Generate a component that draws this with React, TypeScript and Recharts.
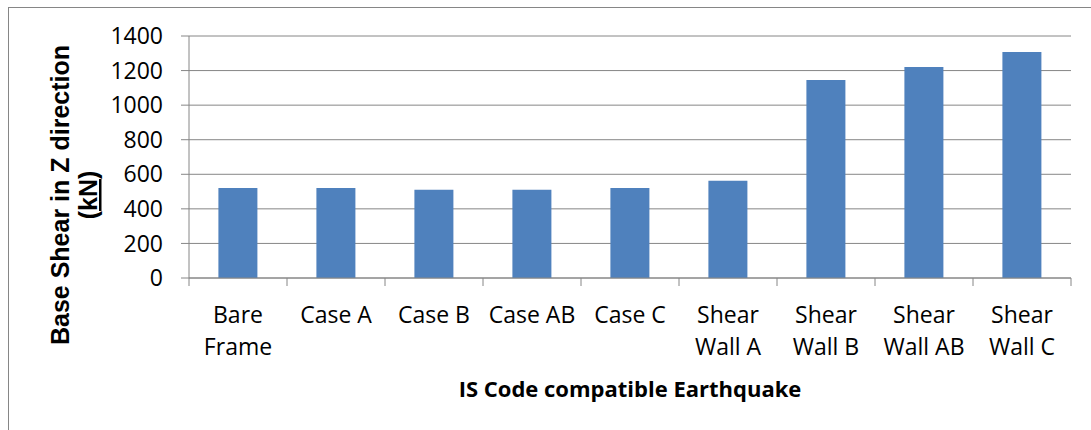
import {
  BarChart,
  Bar,
  XAxis,
  YAxis,
  CartesianGrid,
  Label,
} from 'recharts';

const categories = [
  'Bare Frame',
  'Case A',
  'Case B',
  'Case AB',
  'Case C',
  'Shear Wall A',
  'Shear Wall B',
  'Shear Wall AB',
  'Shear Wall C',
];
const baseShear = [521, 521, 511, 511, 521, 563, 1146, 1220, 1307];
const yTicks = [0, 200, 400, 600, 800, 1000, 1200, 1400];

const data = categories.map((name, i) => ({ name, value: baseShear[i] }));

const GRID = '#868686';
const BAR = '#4F81BD';
const FONT = '"Open Sans", sans-serif';

// greedy word wrap, roughly what excel does with the narrow category slots
const wrap = (s: string, max = 8) => {
  const lines: string[] = [];
  let cur = '';
  s.split(' ').forEach((w) => {
    if (cur && (cur + ' ' + w).length > max) {
      lines.push(cur);
      cur = w;
    } else {
      cur = cur ? cur + ' ' + w : w;
    }
  });
  if (cur) lines.push(cur);
  return lines;
};

const CategoryTick = (props: any) => {
  const { x, y, payload, index, visibleTicksCount, width } = props;
  const half = payload.offset || width / visibleTicksCount / 2;
  const last = index === visibleTicksCount - 1;
  return (
    <g>
      <line x1={x - half} x2={x - half} y1={y} y2={y + 8} stroke={GRID} />
      {last && (
        <line x1={x + half} x2={x + half} y1={y} y2={y + 8} stroke={GRID} />
      )}
      <text
        x={x}
        y={y + 45}
        textAnchor='middle'
        fontSize={23}
        fontFamily={FONT}
        fill='#000'
      >
        {wrap(payload.value).map((ln, i) => (
          <tspan key={i} x={x} dy={i === 0 ? 0 : 32}>
            {ln}
          </tspan>
        ))}
      </text>
    </g>
  );
};

const YTitle = (props: any) => {
  const vb = props.viewBox;
  const x = vb.x + 60;
  const y = vb.y + vb.height / 2 + 38;
  return (
    <g transform={`translate(${x},${y}) rotate(-90)`}>
      <text
        textAnchor='middle'
        fontFamily='"Liberation Sans", Arial, sans-serif'
        fontWeight='bold'
        fontSize={25}
        fill='#000'
      >
        <tspan x={0} y={0}>
          Base Shear in Z direction
        </tspan>
        <tspan x={0} y={28}>
          (<tspan textDecoration='underline'>kN</tspan>)
        </tspan>
      </text>
    </g>
  );
};

const App = () => {
  return (
    <div
      style={{
        position: 'absolute',
        left: 8,
        top: 7,
        width: 1082,
        height: 422,
        borderTop: `1px solid ${GRID}`,
        borderLeft: `1px solid ${GRID}`,
        background: '#fff',
      }}
    >
      <BarChart
        width={1082}
        height={422}
        data={data}
        margin={{ top: 28, right: 20, left: 0, bottom: 0 }}
        barCategoryGap='30%'
      >
        <CartesianGrid vertical={false} stroke={GRID} />
        <XAxis
          dataKey='name'
          height={152}
          axisLine={{ stroke: GRID }}
          tickLine={false}
          tickSize={0}
          tickMargin={0}
          interval={0}
          tick={<CategoryTick />}
        >
          <Label
            value='IS Code compatible Earthquake'
            position='insideBottom'
            offset={33}
            fontFamily={FONT}
            fontWeight='bold'
            fontSize={22}
            fill='#000'
          />
        </XAxis>
        <YAxis
          width={180}
          domain={[0, 1400]}
          ticks={yTicks}
          tickSize={8}
          tickMargin={18}
          axisLine={{ stroke: GRID }}
          tickLine={{ stroke: GRID }}
          tick={{ fontSize: 23, fontFamily: FONT, fill: '#000' }}
        >
          <Label content={<YTitle />} />
        </YAxis>
        <Bar dataKey='value' fill={BAR} isAnimationActive={false} />
      </BarChart>
    </div>
  );
};

export default App;
